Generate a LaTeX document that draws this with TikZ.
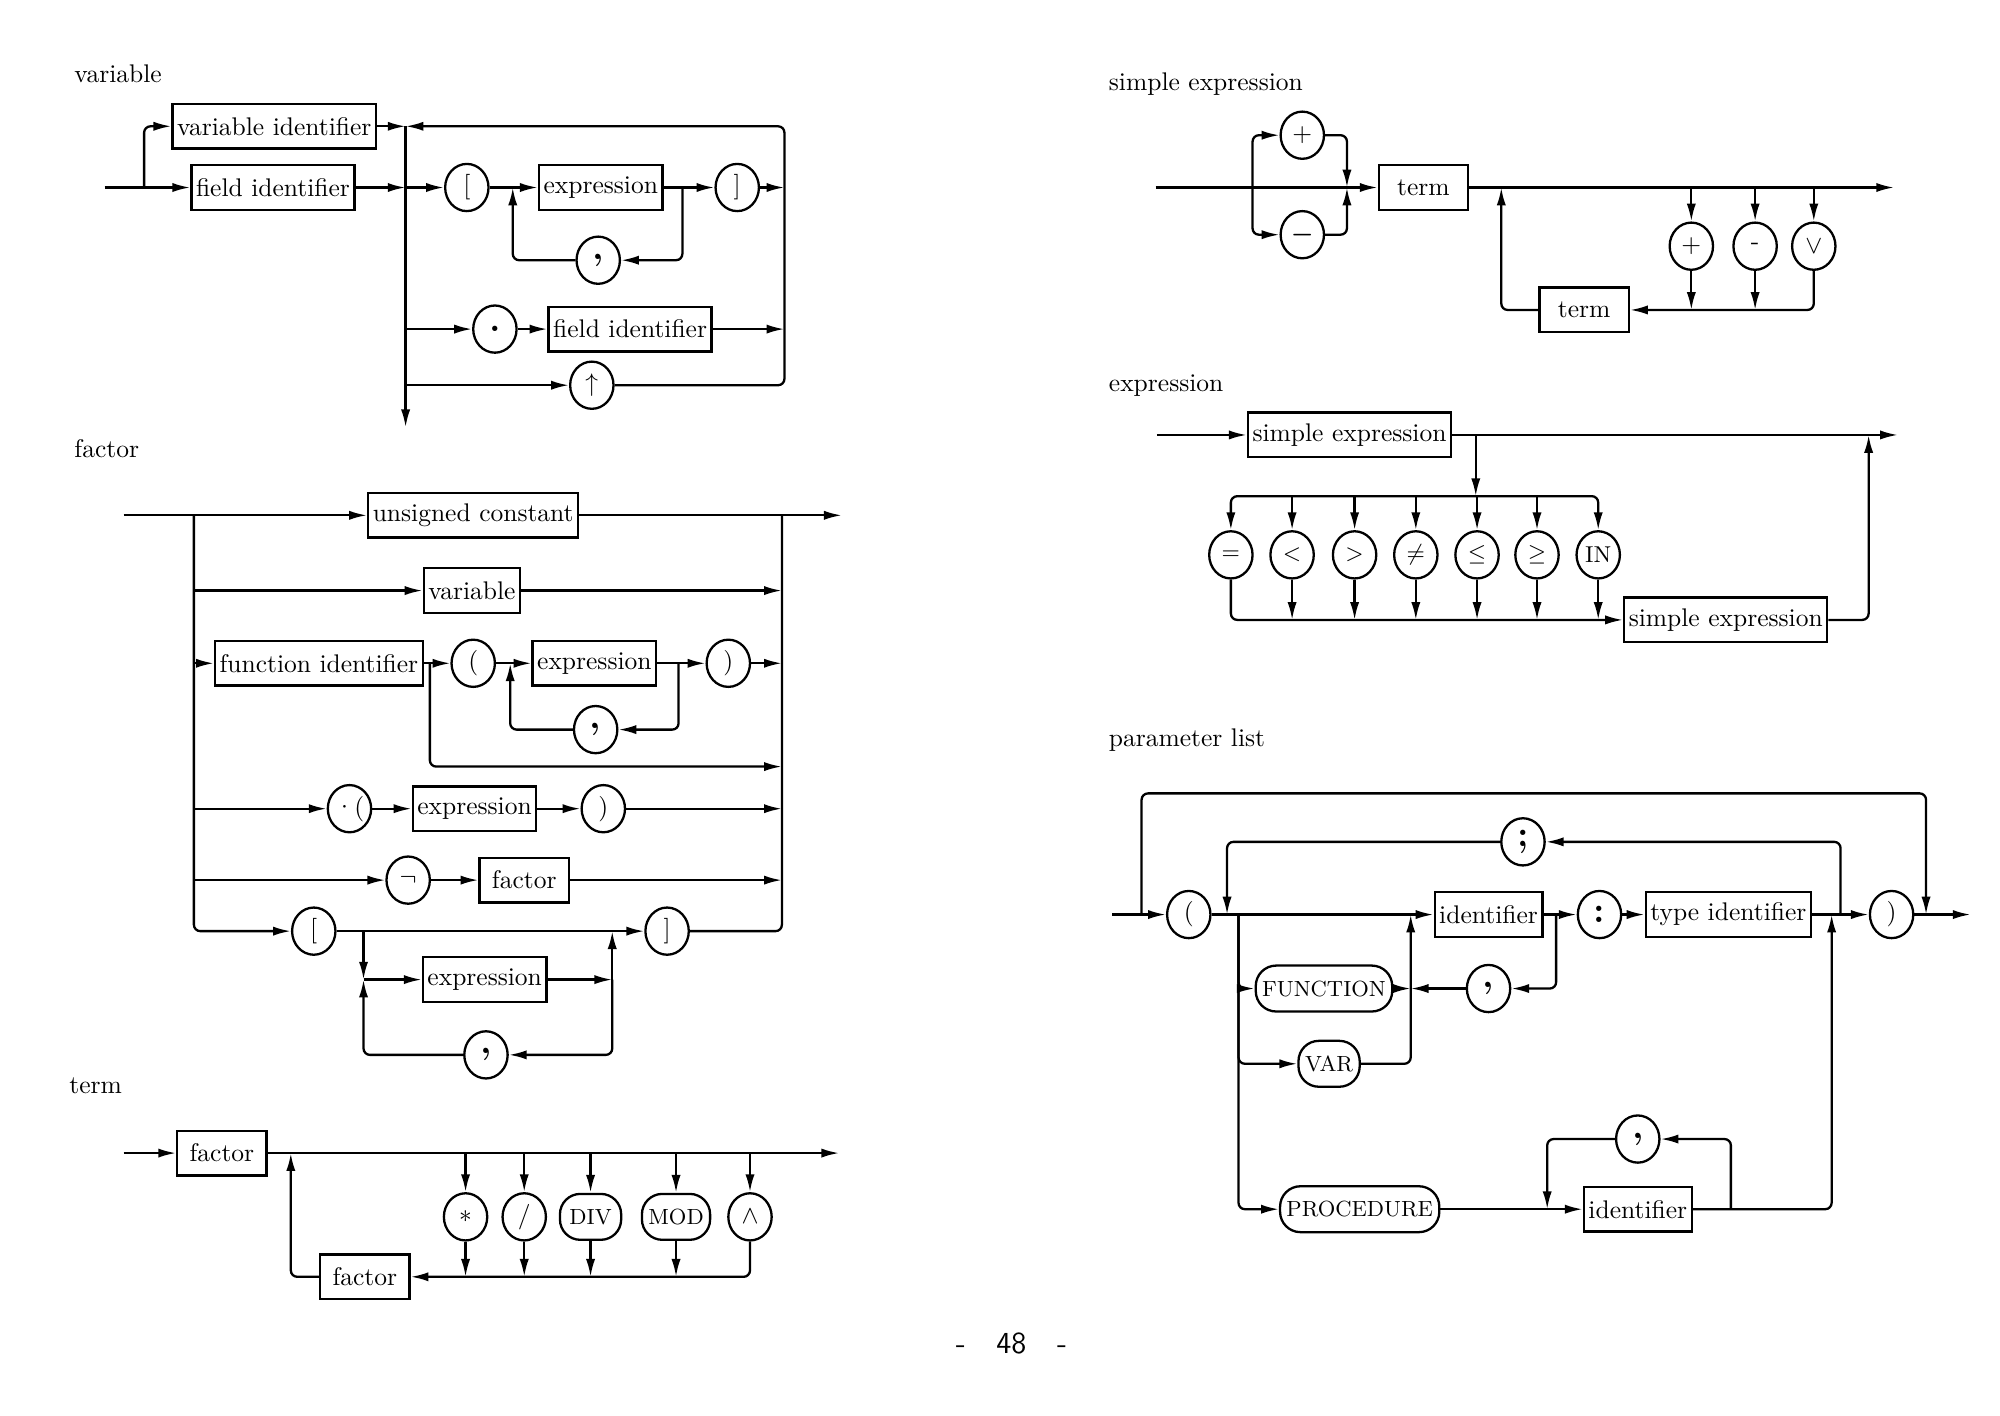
\documentclass[tikz,border=0pt]{standalone}
\usepackage{amsmath,amssymb}
\usetikzlibrary{arrows.meta,positioning,shapes.geometric,calc}
\tikzset{
  lbl/.style={font=\normalsize,inner sep=0pt,anchor=west},
  nt/.style={draw,line width=0.9pt,minimum height=17.5pt,minimum width=35pt,inner xsep=1.8pt,inner ysep=0pt},
  tk/.style={draw,ellipse,line width=0.9pt,minimum width=17pt,minimum height=18.5pt,inner sep=0pt},
  pn/.style={tk,font=\Large\bfseries},
  rel/.style={tk,font=\small},
  kw/.style={draw,rounded corners=8pt,line width=0.9pt,minimum height=18pt,minimum width=24pt,
             inner xsep=2.5pt,inner ysep=0pt,font=\fontsize{8.6}{10}\selectfont},
  ln/.style={line width=0.9pt,rounded corners=2.5pt},
  arr/.style={ln,-{Latex[length=7pt,width=3.6pt]}},
}

\begin{document}
\begin{tikzpicture}[x=0.5pt,y=-0.5pt]
  \useasboundingbox (0,0) rectangle (1568,1110);

  % variable
  \node[lbl] (tvar) at (58,58) {variable};
  \node[nt] (vid) at (215,99) {variable identifier};
  \node[nt] (fid) at (214,147) {field identifier};
  \coordinate (v0) at (82,147);
  \coordinate (vs) at (113,147);
  \coordinate (vj) at (318,147);
  \coordinate (vt) at (318,99);
  \coordinate (vb) at (318,335);
  \coordinate (vr) at (615,147);
  \coordinate (vrt) at (615,99);
  \coordinate (vc1) at (402,147);
  \coordinate (vc2) at (535,147);
  \node[tk] (lb) at (366,147) {[};
  \node[nt] (ex1) at (471,147) {expression};
  \node[tk] (rb) at (578,147) {]};
  \node[pn] (cm1) at (469,204) {,};
  \node[pn] (dot) at (388,258) {.};
  \node[nt] (fid2) at (494,258) {field identifier};
  \node[tk] (up) at (464,302) {$\uparrow$};

  \draw[arr] (v0) -- (fid);
  \draw[arr] (vs) |- (vid);
  \draw[arr] (vid) -- (vt);
  \draw[arr] (fid) -- (vj);
  \draw[arr] (vt) -- (vb);
  \draw[arr] (vj) -- (lb);
  \draw[arr] (lb) -- (ex1);
  \draw[arr] (ex1) -- (rb);
  \draw[arr] (rb) -- (vr);
  \draw[arr] (vc2) |- (cm1);
  \draw[arr] (cm1) -| (vc1);
  \draw[arr] (vj |- dot) -- (dot);
  \draw[arr] (dot) -- (fid2);
  \draw[arr] (fid2) -- (vr |- fid2);
  \draw[arr] (vj |- up) -- (up);
  \draw[arr] (up) -| (vrt) -- (vt);

  % factor
  \node[lbl] (tfac) at (58,352) {factor};
  \coordinate (f0) at (97,404);
  \coordinate (fl) at (152,404);
  \coordinate (fr) at (613,404);
  \coordinate (f1) at (660,404);
  \node[nt] (uc) at (371,404) {unsigned constant};
  \node[nt] (var) at (370,463) {variable};
  \node[nt] (fnid) at (250,520) {function identifier};
  \node[tk] (lp1) at (371,520) {(};
  \node[nt] (ex2) at (466,520) {expression};
  \node[tk] (rp1) at (571,520) {)};
  \node[pn] (cm2) at (467,572) {,};
  \node[tk] (lp2) at (274,634) {\textperiodcentered(};
  \node[nt] (ex3) at (372,634) {expression};
  \node[tk] (rp2) at (473,634) {)};
  \node[tk] (neg) at (320,690) {$\neg$};
  \node[nt] (fac1) at (411,690) {factor};
  \node[tk] (lb2) at (246,730) {[};
  \node[tk] (rb2) at (523,730) {]};
  \node[nt] (ex4) at (380,768) {expression};
  \node[pn] (cm3) at (381,827) {,};
  \coordinate (fa) at (337,520);
  \coordinate (fb) at (400,520);
  \coordinate (fc) at (532,520);
  \coordinate (fd) at (613,601);
  \coordinate (fe) at (285,730);
  \coordinate (ff) at (480,730);
  \coordinate (fe2) at (285,768);
  \coordinate (ff2) at (480,768);

  \draw[arr] (f0) -- (uc);
  \draw[arr] (uc) -- (f1);
  \draw[arr] (fl) |- (lb2);
  \draw[ln] (rb2) -| (fr);
  \draw[arr] (fl |- var) -- (var);
  \draw[arr] (var) -- (fr |- var);
  \draw[arr] (fl |- fnid) -- (fnid);
  \draw[arr] (fnid) -- (lp1);
  \draw[arr] (lp1) -- (ex2);
  \draw[arr] (ex2) -- (rp1);
  \draw[arr] (rp1) -- (fr |- rp1);
  \draw[arr] (fc) |- (cm2);
  \draw[arr] (cm2) -| (fb);
  \draw[arr] (fa) |- (fd);
  \draw[arr] (fl |- lp2) -- (lp2);
  \draw[arr] (lp2) -- (ex3);
  \draw[arr] (ex3) -- (rp2);
  \draw[arr] (rp2) -- (fr |- rp2);
  \draw[arr] (fl |- neg) -- (neg);
  \draw[arr] (neg) -- (fac1);
  \draw[arr] (fac1) -- (fr |- fac1);
  \draw[arr] (lb2) -- (rb2);
  \draw[arr] (fe) -- (fe2);
  \draw[arr] (fe2) -- (ex4);
  \draw[arr] (ex4) -- (ff2);
  \draw[arr] (ff2) -- (ff);
  \draw[arr] (ff2) |- (cm3);
  \draw[arr] (cm3) -| (fe2);

  % term
  \node[lbl] (tterm) at (54,851) {term};
  \coordinate (t0) at (97,904);
  \coordinate (t1) at (658,904);
  \coordinate (tb) at (228,904);
  \node[nt] (fac2) at (174,904) {factor};
  \node[tk] (mul) at (365,954) {$*$};
  \node[tk] (dvd) at (411,954) {/};
  \node[kw] (div) at (463,954) {DIV};
  \node[kw] (mod) at (530,954) {MOD};
  \node[tk] (and) at (588,954) {$\wedge$};
  \node[nt] (fac3) at (286,1001) {factor};

  \draw[arr] (t0) -- (fac2);
  \draw[arr] (fac2) -- (t1);
  \foreach \o in {mul,dvd,div,mod}{
    \draw[arr] (\o |- t1) -- (\o);
    \draw[arr] (\o) -- (\o |- fac3);
  }
  \draw[arr] (and |- t1) -- (and);
  \draw[arr] (and) |- (fac3);
  \draw[arr] (fac3) -| (tb);

  % simple expression
  \node[lbl] (tsim) at (869,66) {simple expression};
  \coordinate (s0) at (906,147);
  \coordinate (s1) at (1485,147);
  \coordinate (sa) at (982,147);
  \coordinate (sb) at (1056,147);
  \coordinate (sc) at (1177,147);
  \node[tk] (pl1) at (1021,106) {$+$};
  \node[tk] (mi1) at (1021,184) {$\boldsymbol{-}$};
  \node[nt] (term1) at (1116,147) {term};
  \node[tk] (pl2) at (1326,193) {$+$};
  \node[tk] (mi2) at (1376,193) {-};
  \node[tk] (or) at (1422,193) {$\vee$};
  \node[nt] (term2) at (1242,243) {term};

  \draw[arr] (s0) -- (term1);
  \draw[arr] (sa) |- (pl1);
  \draw[arr] (sa) |- (mi1);
  \draw[arr] (pl1) -| (sb);
  \draw[arr] (mi1) -| (sb);
  \draw[arr] (term1) -- (s1);
  \foreach \o in {pl2,mi2}{
    \draw[arr] (\o |- s1) -- (\o);
    \draw[arr] (\o) -- (\o |- term2);
  }
  \draw[arr] (or |- s1) -- (or);
  \draw[arr] (or) |- (term2);
  \draw[arr] (term2) -| (sc);

  % expression
  \node[lbl] (texp) at (869,302) {expression};
  \coordinate (e0) at (907,341);
  \coordinate (e1) at (1488,341);
  \coordinate (ej) at (1157,341);
  \coordinate (ek) at (1157,389);
  \coordinate (eh) at (1465,341);
  \node[nt] (se1) at (1058,341) {simple expression};
  \node[rel] (eq) at (965,435) {=};
  \node[rel] (lt) at (1013,435) {$<$};
  \node[rel] (gt) at (1062,435) {$>$};
  \node[rel] (ne) at (1110,435) {$\neq$};
  \node[rel] (le) at (1158,435) {$\leq$};
  \node[rel] (ge) at (1205,435) {$\geq$};
  \node[rel] (inop) at (1253,435) {IN};
  \node[nt] (se2) at (1353,486) {simple expression};

  \draw[arr] (e0) -- (se1);
  \draw[arr] (se1) -- (e1);
  \draw[arr] (ej) -- (ek);
  \draw[arr] (ek) -| (eq);
  \draw[arr] (ek) -| (inop);
  \foreach \o in {lt,gt,ne,le,ge}{
    \draw[arr] (\o |- ek) -- (\o);
  }
  \draw[arr] (eq) |- (se2);
  \foreach \o in {lt,gt,ne,le,ge,inop}{
    \draw[arr] (\o) -- (\o |- se2);
  }
  \draw[arr] (se2) -| (eh);

  % parameter list
  \node[lbl] (tpar) at (869,580) {parameter list};
  \coordinate (p0) at (872,717);
  \coordinate (p1) at (1545,717);
  \coordinate (pa) at (895,717);
  \coordinate (pat) at (895,622);
  \coordinate (pz) at (1510,717);
  \coordinate (pb) at (962,717);
  \coordinate (pc) at (971,717);
  \coordinate (pd) at (1436,717);
  \coordinate (pe) at (1443,717);
  \coordinate (pf) at (1106,717);
  \coordinate (pg) at (1220,717);
  \coordinate (ph) at (1213,948);
  \coordinate (pi) at (1357,948);
  \node[tk] (plp) at (932,717) {(};
  \node[pn] (semi) at (1194,660) {;};
  \node[nt] (pid1) at (1167,717) {identifier};
  \node[pn] (colon) at (1254,717) {:};
  \node[nt] (tid) at (1355,717) {type identifier};
  \node[tk] (prp) at (1483,717) {)};
  \node[kw] (fun) at (1038,775) {FUNCTION};
  \node[pn] (cm4) at (1167,775) {,};
  \node[kw] (vark) at (1042,834) {VAR};
  \node[kw] (proc) at (1066,948) {PROCEDURE};
  \node[nt] (pid2) at (1284,948) {identifier};
  \node[pn] (cm5) at (1284,893) {,};

  \draw[arr] (p0) -- (plp);
  \draw[arr] (pa) |- (pz |- pat) -- (pz);
  \draw[arr] (plp) -- (pid1);
  \draw[arr] (pe) |- (semi);
  \draw[arr] (semi) -| (pb);
  \draw[arr] (pc) |- (fun);
  \draw[arr] (pc) |- (vark);
  \draw[arr] (pc) |- (proc);
  \draw[arr] (vark) -| (pf);
  \draw[arr] (fun) -- (pf |- fun);
  \draw[arr] (pid1) -- (colon);
  \draw[arr] (pg) |- (cm4);
  \draw[arr] (cm4) -- (pf |- cm4);
  \draw[arr] (colon) -- (tid);
  \draw[arr] (tid) -- (prp);
  \draw[arr] (prp) -- (p1);
  \draw[arr] (proc) -- (pid2);
  \draw[arr] (pid2) -| (pd);
  \draw[arr] (pi) |- (cm5);
  \draw[arr] (cm5) -| (ph);

  % page number
  \node[font=\sffamily\large] (pgno) at (793,1053) {-\quad 48\quad -};
\end{tikzpicture}
\end{document}
